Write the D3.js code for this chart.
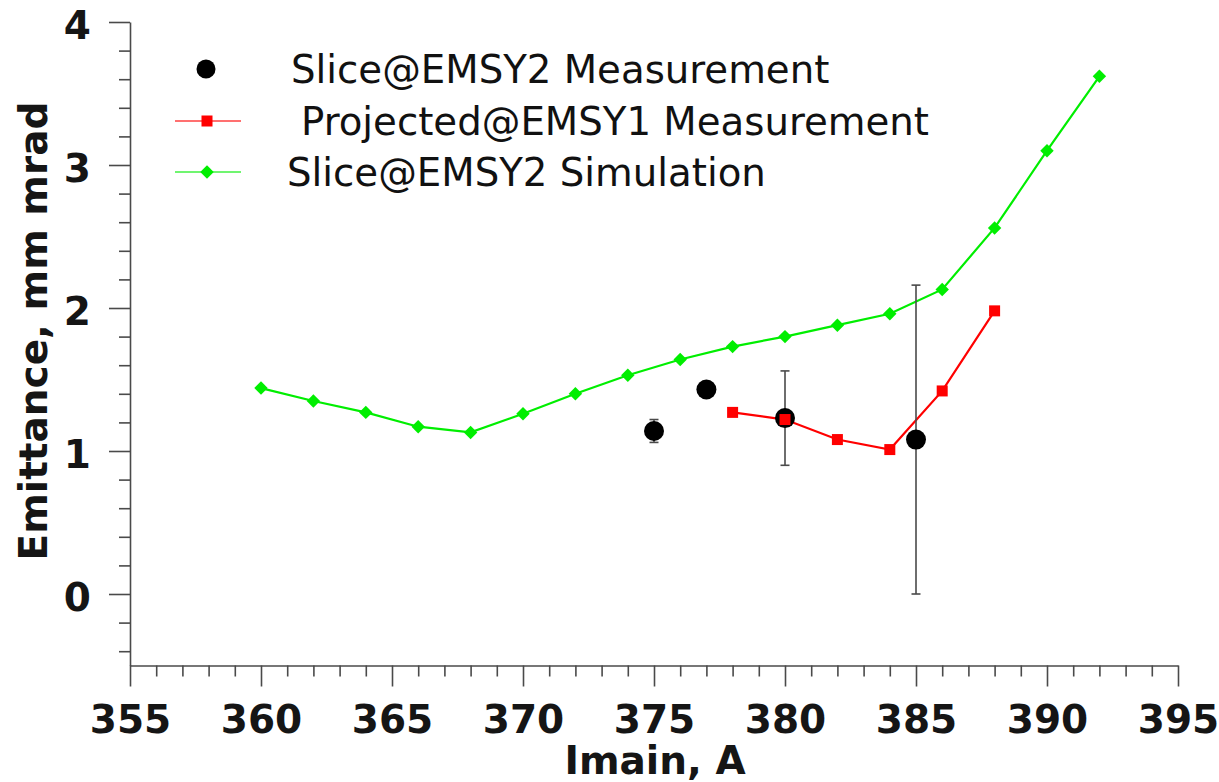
<!DOCTYPE html>
<html>
<head>
<meta charset="utf-8">
<script src="https://cdn.jsdelivr.net/npm/d3@7"></script>
<style>
  html, body { margin: 0; padding: 0; background: #fff; }
  svg { display: block; font-family: "DejaVu Sans", sans-serif; }
</style>
</head>
<body>
<svg id="chart" width="1219" height="782"></svg>
<script>
// Slice emittance measured at EMSY2 (with error bars)
const sliceMeasCurrent = [375, 377, 380, 385];
const sliceMeasEmit    = [1.14, 1.43, 1.23, 1.08];
const sliceMeasErr     = [0.08, 0.03, 0.33, 1.08];

// Projected emittance measured at EMSY1
const projMeasCurrent = [378, 380, 382, 384, 386, 388];
const projMeasEmit    = [1.27, 1.22, 1.08, 1.01, 1.42, 1.98];

// Simulated slice emittance at EMSY2
const simCurrent = [360, 362, 364, 366, 368, 370, 372, 374, 376, 378, 380, 382, 384, 386, 388, 390, 392];
const simEmit    = [1.44, 1.35, 1.27, 1.17, 1.13, 1.26, 1.40, 1.53, 1.64, 1.73, 1.80, 1.88, 1.96, 2.13, 2.56, 3.10, 3.62];

// Axis ticks and titles
const xMajorTicks = [355, 360, 365, 370, 375, 380, 385, 390, 395];
const yMajorTicks = [0, 1, 2, 3, 4];
const xTitle = "Imain, A";
const yTitle = "Emittance, mm mrad";
const legendLabels = ["Slice@EMSY2 Measurement", "Projected@EMSY1 Measurement", "Slice@EMSY2 Simulation"];

const svg = d3.select("#chart");
const axisColor = "#4a4a4a";
const green = "#00ee00";
const red = "#ff0000";

const x = d3.scaleLinear().domain([355, 395]).range([130, 1178]);
const y = d3.scaleLinear().domain([-0.5, 4]).range([665.5, 22]);

// minor ticks: every 1 A on x, every 0.2 on y
const xMinor = d3.range(355, 396, 1).filter(v => v % 5 !== 0);
const yMinor = d3.range(-0.4, 4.0001, 0.2).map(v => +v.toFixed(1)).filter(v => Math.abs(v - Math.round(v)) > 1e-6);

// ---- X axis ----
const gx = svg.append("g").attr("transform", `translate(0,${y(-0.5)})`);
gx.call(d3.axisBottom(x).tickValues(xMinor).tickSize(11).tickFormat(""))
  .call(g => g.select(".domain").remove());
gx.append("g").call(d3.axisBottom(x).tickValues(xMajorTicks).tickSize(21).tickSizeOuter(0).tickFormat(d3.format("d")));
gx.selectAll("line, path").attr("stroke", axisColor).attr("stroke-width", 1.6);
gx.selectAll("text")
  .attr("fill", "#151515").attr("font-size", 39).attr("font-weight", "bold")
  .attr("font-family", "DejaVu Sans").attr("y", 0).attr("dy", null)
  .attr("transform", "translate(0,67)");

// ---- Y axis ----
const gy = svg.append("g").attr("transform", `translate(${x(355)},0)`);
gy.call(d3.axisLeft(y).tickValues(yMinor).tickSize(11).tickFormat(""))
  .call(g => g.select(".domain").remove());
gy.append("g").call(d3.axisLeft(y).tickValues(yMajorTicks).tickSize(21).tickSizeOuter(0).tickFormat(d3.format("d")));
gy.selectAll("line, path").attr("stroke", axisColor).attr("stroke-width", 1.6);
gy.selectAll("text")
  .attr("fill", "#151515").attr("font-size", 39).attr("font-weight", "bold")
  .attr("font-family", "DejaVu Sans").attr("x", -39).attr("dy", "0.43em");

// ---- axis titles ----
svg.append("text")
  .attr("x", 655).attr("y", 774)
  .attr("text-anchor", "middle")
  .attr("font-size", 39).attr("font-weight", "bold").attr("fill", "#151515")
  .text(xTitle);
svg.append("text")
  .attr("transform", "translate(47,331) rotate(-90)")
  .attr("text-anchor", "middle")
  .attr("font-size", 39).attr("font-weight", "bold").attr("fill", "#151515")
  .text(yTitle);

// ---- simulation curve ----
const simData = simCurrent.map((c, i) => ({ c, v: simEmit[i] }));
const line = d3.line().x(d => x(d.c)).y(d => y(d.v));
svg.append("path").datum(simData)
  .attr("fill", "none").attr("stroke", green).attr("stroke-width", 2.2)
  .attr("d", line);
const diamond = d3.symbol().type(d3.symbolDiamond2).size(115);
svg.append("g").selectAll("path").data(simData).join("path")
  .attr("transform", d => `translate(${x(d.c)},${y(d.v)})`)
  .attr("d", diamond).attr("fill", green);

// ---- projected measurement ----
const projData = projMeasCurrent.map((c, i) => ({ c, v: projMeasEmit[i] }));
svg.append("path").datum(projData)
  .attr("fill", "none").attr("stroke", red).attr("stroke-width", 2.2)
  .attr("d", line);
svg.append("g").selectAll("rect").data(projData).join("rect")
  .attr("x", d => x(d.c) - 5.5).attr("y", d => y(d.v) - 5.5)
  .attr("width", 11).attr("height", 11).attr("fill", red);

// ---- slice measurement with error bars ----
const sliceData = sliceMeasCurrent.map((c, i) => ({ c, v: sliceMeasEmit[i], e: sliceMeasErr[i] }));
const eb = svg.append("g").attr("stroke", "#4a4a4a").attr("stroke-width", 1.6);
eb.selectAll("line.v").data(sliceData).join("line").attr("class", "v")
  .attr("x1", d => x(d.c)).attr("x2", d => x(d.c))
  .attr("y1", d => y(d.v - d.e)).attr("y2", d => y(d.v + d.e));
eb.selectAll("line.t").data(sliceData).join("line").attr("class", "t")
  .attr("x1", d => x(d.c) - 4.5).attr("x2", d => x(d.c) + 4.5)
  .attr("y1", d => y(d.v + d.e)).attr("y2", d => y(d.v + d.e));
eb.selectAll("line.b").data(sliceData).join("line").attr("class", "b")
  .attr("x1", d => x(d.c) - 4.5).attr("x2", d => x(d.c) + 4.5)
  .attr("y1", d => y(d.v - d.e)).attr("y2", d => y(d.v - d.e));
svg.append("g").selectAll("circle").data(sliceData).join("circle")
  .attr("cx", d => x(d.c)).attr("cy", d => y(d.v)).attr("r", 10).attr("fill", "#000");

// redraw the projected point that sits on top of the 380 A dot
svg.append("g").selectAll("rect").data(projData.filter(d => d.c === 380)).join("rect")
  .attr("x", d => x(d.c) - 5.5).attr("y", d => y(d.v) - 5.5)
  .attr("width", 11).attr("height", 11).attr("fill", red);

// ---- legend ----
const legend = svg.append("g");
const rowsY = [69, 121, 172];
const textX = [291, 301, 287];
legend.append("circle").attr("cx", 206).attr("cy", rowsY[0]).attr("r", 9.5).attr("fill", "#000");
legend.append("line").attr("x1", 175).attr("x2", 241).attr("y1", rowsY[1]).attr("y2", rowsY[1])
  .attr("stroke", red).attr("stroke-opacity", 0.75).attr("stroke-width", 1.6);
legend.append("rect").attr("x", 207 - 5.5).attr("y", rowsY[1] - 5.5).attr("width", 11).attr("height", 11).attr("fill", red);
legend.append("line").attr("x1", 175).attr("x2", 241).attr("y1", rowsY[2]).attr("y2", rowsY[2])
  .attr("stroke", green).attr("stroke-opacity", 0.75).attr("stroke-width", 1.6);
legend.append("path").attr("transform", `translate(207,${rowsY[2]})`).attr("d", diamond).attr("fill", green);
legend.selectAll("text").data(legendLabels).join("text")
  .attr("x", (d, i) => textX[i]).attr("y", (d, i) => rowsY[i] + 14)
  .attr("font-size", 38.7).attr("fill", "#111")
  .text(d => d);
</script>
</body>
</html>
